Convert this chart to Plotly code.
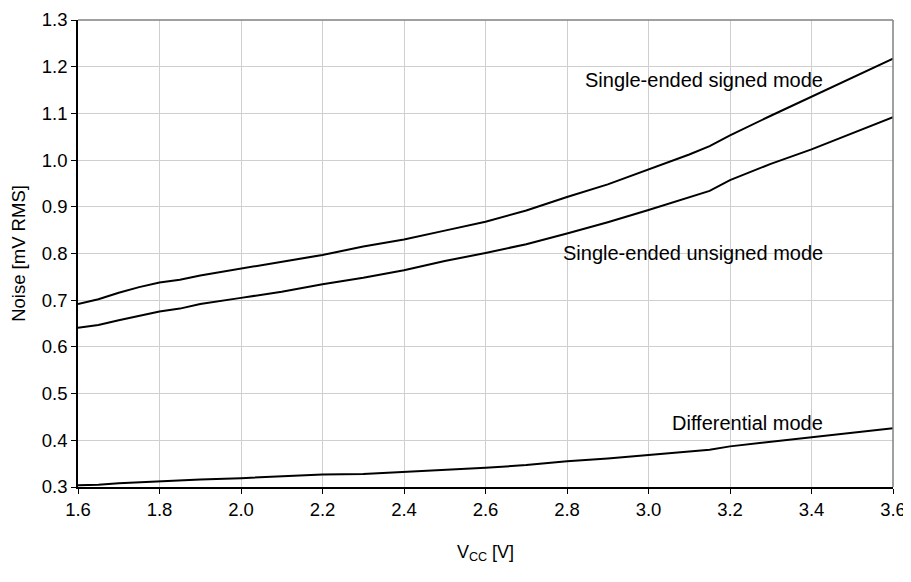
import plotly.graph_objects as go

vcc = [1.6, 1.65, 1.7, 1.75, 1.8, 1.85, 1.9, 2.0, 2.1, 2.2, 2.3, 2.4, 2.5,
       2.6, 2.7, 2.8, 2.9, 3.0, 3.1, 3.15, 3.2, 3.3, 3.4, 3.5, 3.6]
signed = [0.692, 0.702, 0.716, 0.728, 0.738, 0.744, 0.753, 0.768, 0.782, 0.797,
          0.815, 0.830, 0.849, 0.868, 0.892, 0.921, 0.948, 0.980, 1.012, 1.030,
          1.053, 1.095, 1.136, 1.176, 1.217]
unsigned = [0.641, 0.647, 0.657, 0.667, 0.676, 0.682, 0.692, 0.705, 0.718, 0.734,
            0.748, 0.764, 0.784, 0.801, 0.820, 0.843, 0.867, 0.893, 0.921, 0.934,
            0.957, 0.992, 1.023, 1.057, 1.092]
differential = [0.304, 0.305, 0.308, 0.310, 0.312, 0.315, 0.316, 0.319, 0.323, 0.327,
                0.328, 0.332, 0.337, 0.341, 0.347, 0.355, 0.361, 0.368, 0.375, 0.380,
                0.387, 0.397, 0.406, 0.416, 0.426]

labels = ["Single-ended signed mode", "Single-ended unsigned mode", "Differential mode"]
label_x = [3.434, 3.434, 3.434]
label_y = [1.172, 0.801, 0.437]

FONT = "Liberation Sans, Arial, sans-serif"

fig = go.Figure()
for ys, name in zip([signed, unsigned, differential], labels):
    fig.add_trace(go.Scatter(x=vcc, y=ys, mode="lines", name=name,
                             line=dict(color="black", width=2), showlegend=False))

for t, x, y in zip(labels, label_x, label_y):
    fig.add_annotation(x=x, y=y, text=t, showarrow=False, xanchor="right",
                       yanchor="middle", font=dict(family=FONT, size=20, color="black"))

fig.update_layout(
    width=903, height=574,
    margin=dict(l=70, r=18, t=12, b=95),
    paper_bgcolor="white", plot_bgcolor="white",
    font=dict(family=FONT, size=18.5, color="black"),
)
fig.update_xaxes(
    range=[1.6, 3.6], dtick=0.2, tick0=1.6, tickformat=".1f",
    showgrid=True, gridcolor="#cfcfcf", gridwidth=1,
    showline=True, linecolor="black", linewidth=1.5,
    ticks="outside", ticklen=5, tickcolor="black",
    zeroline=False, automargin=False,
    title=dict(text="V<sub>CC</sub> [V]", font=dict(size=18), standoff=26),
)
fig.update_yaxes(
    range=[0.3, 1.3], dtick=0.1, tick0=0.3, tickformat=".1f",
    showgrid=True, gridcolor="#cfcfcf", gridwidth=1,
    showline=True, linecolor="black", linewidth=1.5,
    ticks="outside", ticklen=5, tickcolor="black",
    zeroline=False, automargin=False,
    title=dict(text="Noise [mV RMS]", font=dict(size=18.5), standoff=12),
)
# top and right frame in grey
fig.add_shape(type="line", xref="paper", yref="paper", x0=0, x1=1, y0=1, y1=1,
              line=dict(color="#808080", width=1.5))
fig.add_shape(type="line", xref="paper", yref="paper", x0=1, x1=1, y0=0, y1=1,
              line=dict(color="#808080", width=1.5))

fig.write_html("out.html")
